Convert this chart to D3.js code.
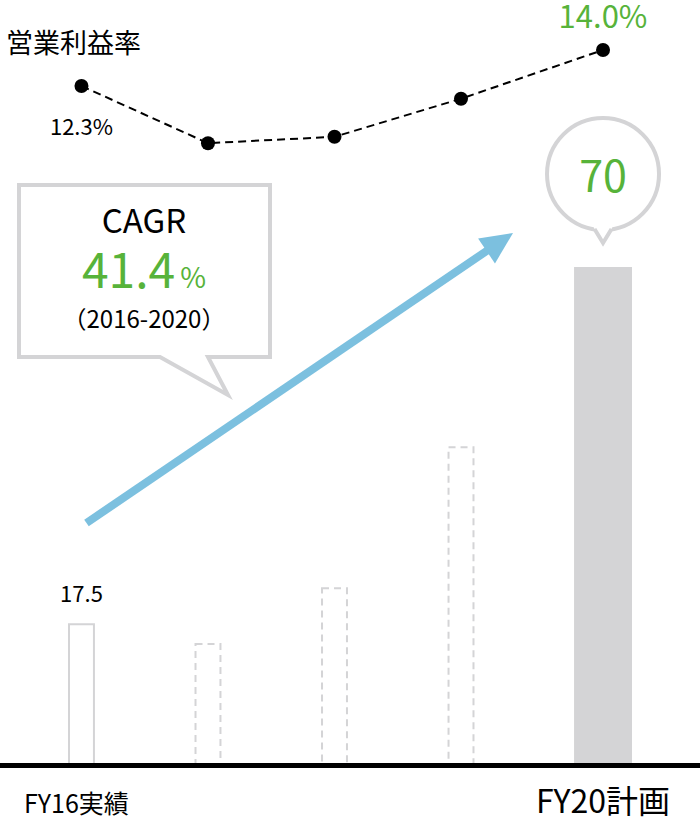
<!DOCTYPE html>
<html lang="ja">
<head>
<meta charset="UTF-8" />
<title>営業利益率 / CAGR</title>
<script src="https://d3js.org/d3.v7.min.js"></script>
<style>
  body {
    margin: 0;
    background: #fff;
  }
  svg text {
    font-family: "Noto Sans CJK JP", "Noto Sans", sans-serif;
  }
</style>
</head>
<body>
<div id="chart"></div>
<script>
// data
const categories = ["FY16", "FY17", "FY18", "FY19", "FY20"];
const salesValues = [17.5, 14.6, 22.8, 43.6, 70];
const marginValues = [12.3, 9.6, 9.9, 11.7, 14.0];
const barKinds = ["actual", "forecast", "forecast", "forecast", "plan"];
const axisLabels = ["FY16実績", "", "", "", "FY20計画"];
const cagrText = { title: "CAGR", value: "41.4", unit: "%", period: "（2016-2020）" };

const width = 700, height = 820;
const green = "#57b33a", lineGray = "#d4d4d6", blue = "#7cc0df";

const svg = d3.select("#chart").append("svg")
  .attr("width", width)
  .attr("height", height);

const x = d3.scaleBand().domain(categories).range([68, 601]).paddingInner(0.787);
const barW = (i) => barKinds[i] === "plan" ? x.bandwidth() * 2.15 : x.bandwidth();
const cx = (i) => x(categories[i]) + barW(i) / 2;

const baseY = 763;
const y = d3.scaleLinear().domain([0, 70]).range([742, 267]);
const my = d3.scaleLinear().domain([12.3, 14.0]).range([86, 50]);

// bars
svg.selectAll("rect.bar")
  .data(salesValues)
  .enter().append("rect")
  .attr("class", "bar")
  .attr("x", (d, i) => barKinds[i] === "plan" ? x(categories[i]) : x(categories[i]) + 1)
  .attr("y", (d, i) => barKinds[i] === "plan" ? y(d) : y(d) + 1)
  .attr("width", (d, i) => barKinds[i] === "plan" ? barW(i) : barW(i) - 2)
  .attr("height", (d, i) => baseY - y(d))
  .attr("fill", (d, i) => barKinds[i] === "plan" ? lineGray : "#fff")
  .attr("stroke", (d, i) => barKinds[i] === "plan" ? "none" : lineGray)
  .attr("stroke-width", 2)
  .attr("stroke-dasharray", (d, i) => barKinds[i] === "forecast" ? "7,5" : null);

// baseline
svg.append("line")
  .attr("x1", 0).attr("x2", width)
  .attr("y1", baseY + 2.5).attr("y2", baseY + 2.5)
  .attr("stroke", "#000")
  .attr("stroke-width", 5);

// first bar value
svg.append("text")
  .attr("x", cx(0)).attr("y", y(salesValues[0]) - 21)
  .attr("text-anchor", "middle")
  .attr("font-size", 22)
  .text(salesValues[0].toFixed(1));

// x labels
svg.selectAll("text.xlab")
  .data(axisLabels)
  .enter().append("text")
  .attr("class", "xlab")
  .attr("x", (d, i) => i === 0 ? cx(i) - 5 : cx(i))
  .attr("y", 813)
  .attr("text-anchor", "middle")
  .attr("font-size", (d, i) => barKinds[i] === "plan" ? 32 : 25)
  .text(d => d);

// margin line
const line = d3.line()
  .x((d, i) => cx(i))
  .y(d => my(d));

svg.append("path")
  .datum(marginValues)
  .attr("d", line)
  .attr("fill", "none")
  .attr("stroke", "#000")
  .attr("stroke-width", 2)
  .attr("stroke-dasharray", "8,5");

svg.selectAll("circle.dot")
  .data(marginValues)
  .enter().append("circle")
  .attr("class", "dot")
  .attr("cx", (d, i) => cx(i))
  .attr("cy", d => my(d))
  .attr("r", 7)
  .attr("fill", "#000");

svg.append("text")
  .attr("x", 6).attr("y", 53)
  .attr("font-size", 27)
  .text("営業利益率");

svg.append("text")
  .attr("x", cx(0)).attr("y", my(marginValues[0]) + 49)
  .attr("text-anchor", "middle")
  .attr("font-size", 22)
  .text(marginValues[0].toFixed(1) + "%");

const last = marginValues.length - 1;
svg.append("text")
  .attr("x", cx(last)).attr("y", my(marginValues[last]) - 22)
  .attr("text-anchor", "middle")
  .attr("font-size", 31)
  .attr("fill", green)
  .text(marginValues[last].toFixed(1) + "%");

// growth arrow
const a0 = [cx(0) + 5, 523], a1 = [513, 233];
const dx = a1[0] - a0[0], dy = a1[1] - a0[1], len = Math.hypot(dx, dy);
const ux = dx / len, uy = dy / len;
const headL = 32, headW = 15;
const hb = [a1[0] - ux * headL, a1[1] - uy * headL];
svg.append("line")
  .attr("x1", a0[0]).attr("y1", a0[1])
  .attr("x2", hb[0] + ux * 4).attr("y2", hb[1] + uy * 4)
  .attr("stroke", blue)
  .attr("stroke-width", 8);
svg.append("path")
  .attr("d", d3.line()([
    a1,
    [hb[0] - uy * headW, hb[1] + ux * headW],
    [hb[0] + uy * headW, hb[1] - ux * headW]
  ]) + "Z")
  .attr("fill", blue);

// CAGR callout
svg.append("path")
  .attr("d", "M19,185H270V357H208L228,395L160,357H19Z")
  .attr("fill", "#fff")
  .attr("stroke", lineGray)
  .attr("stroke-width", 4)
  .attr("stroke-linejoin", "miter");

svg.append("text")
  .attr("x", 144).attr("y", 233)
  .attr("text-anchor", "middle")
  .attr("font-size", 33)
  .text(cagrText.title);

const cg = svg.append("text")
  .attr("x", 144).attr("y", 288)
  .attr("text-anchor", "middle")
  .attr("fill", green);
cg.append("tspan").attr("font-size", 48).text(cagrText.value);
cg.append("tspan").attr("font-size", 28).attr("dx", 5).text(cagrText.unit);

svg.append("text")
  .attr("x", 144).attr("y", 328)
  .attr("text-anchor", "middle")
  .attr("font-size", 24)
  .text(cagrText.period);

// bubble over the plan bar
const bx = cx(last), by = y(salesValues[last]) - 93, br = 56;
svg.append("circle")
  .attr("cx", bx).attr("cy", by).attr("r", br)
  .attr("fill", "#fff")
  .attr("stroke", lineGray)
  .attr("stroke-width", 4);
svg.append("path")
  .attr("d", `M${bx - 10},${by + br - 4}L${bx},${by + br + 14}L${bx + 10},${by + br - 4}Z`)
  .attr("fill", "#fff");
svg.append("path")
  .attr("d", `M${bx - 8.5},${by + br - 1}L${bx},${by + br + 13}L${bx + 8.5},${by + br - 1}`)
  .attr("fill", "none")
  .attr("stroke", lineGray)
  .attr("stroke-width", 4);
svg.append("text")
  .attr("x", bx).attr("y", by + 18)
  .attr("text-anchor", "middle")
  .attr("font-size", 43)
  .attr("fill", green)
  .text(salesValues[last]);
</script>
</body>
</html>
